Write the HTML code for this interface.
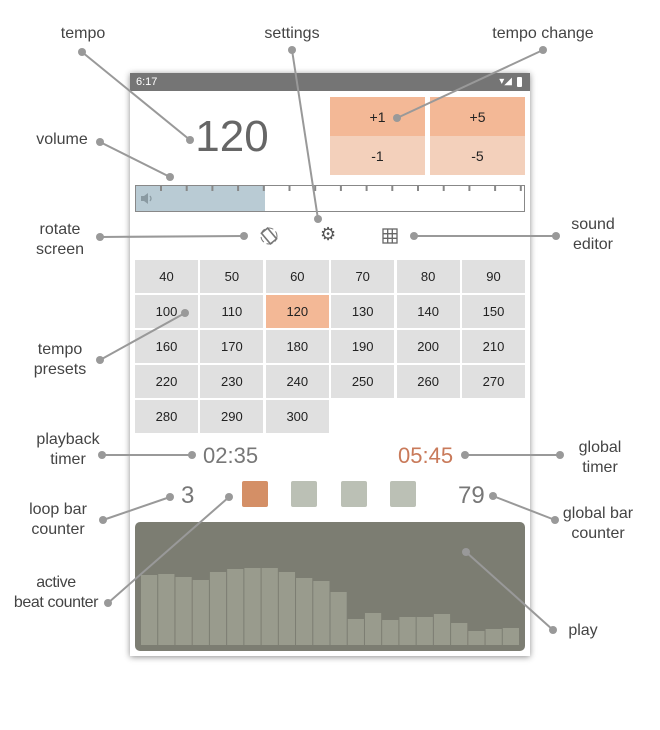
<!DOCTYPE html>
<html><head><meta charset="utf-8"><style>
body{margin:0;width:660px;height:730px;background:#fff;position:relative;overflow:hidden;font-family:"Liberation Sans",sans-serif}
div,span{position:absolute;box-sizing:border-box}
.lbl{font-size:16px;color:#444;text-align:center;line-height:20px;white-space:nowrap}
.cell{background:#e0e0e0;font-size:13px;color:#222;display:flex;align-items:center;justify-content:center;height:33px;width:63px}
.tb{display:flex;align-items:center;justify-content:center;font-size:14px;color:#222;width:95px;height:39px}
.sq{width:26px;height:26px;top:481px;border-radius:2px;background:#bbc0b5}
</style></head><body>
<div style="left:130px;top:73px;width:400px;height:583px;background:#fff;box-shadow:0 1px 6px rgba(0,0,0,.45)"></div>
<div style="left:130px;top:73px;width:400px;height:18px;background:#757575;color:#fff;font-size:11px;padding:3px 6px;line-height:12px">6:17<span style="right:18px;top:3px;font-size:10px">▾◢</span><span style="right:8px;top:4px;width:5px;height:10px;background:#fff;border-radius:1px"></span></div>
<div style="left:192px;top:112px;width:80px;font-size:44px;color:#666;text-align:center;line-height:50px">120</div>
<div class="tb" style="left:330px;top:97px;background:#f3b896">+1</div>
<div class="tb" style="left:430px;top:97px;background:#f3b896">+5</div>
<div class="tb" style="left:330px;top:136px;background:#f3d0bb">-1</div>
<div class="tb" style="left:430px;top:136px;background:#f3d0bb">-5</div>
<div style="left:135px;top:185px;width:390px;height:27px;border:1px solid #888;background:#fff">
<div style="left:0;top:0;width:129px;height:25px;background:#b9cbd4"></div>
<svg style="position:absolute;left:4px;top:6px" width="14" height="13"><path d="M1 4H4L8 1V12L4 9H1Z" fill="#8a9aa2"/><path d="M10 4Q12 6.5 10 9" stroke="#8a9aa2" fill="none" stroke-width="1.3"/></svg>
<svg style="position:absolute;left:0;top:0" width="390" height="25"><g stroke="#888" stroke-width="2" id="ticks"></g></svg>
</div>
<svg style="position:absolute;left:259px;top:226px" width="20" height="20"><circle cx="10" cy="10" r="8" fill="none" stroke="#777" stroke-width="1" stroke-dasharray="6 3"/><rect x="6" y="3" width="8" height="14" transform="rotate(-40 10 10)" fill="none" stroke="#777" stroke-width="1.6"/></svg>
<div style="left:320px;top:224px;font-size:18px;color:#555">⚙</div>
<svg style="position:absolute;left:382px;top:228px" width="16" height="16"><g stroke="#666" stroke-width="1.3" fill="none"><rect x="1" y="1" width="14" height="14"/><path d="M5.7 1V15M10.3 1V15M1 5.7H15M1 10.3H15"/></g></svg>
<div id="grid" style="left:0;top:0"></div>
<div style="left:203px;top:443px;font-size:22px;color:#777">02:35</div>
<div style="left:398px;top:443px;font-size:22px;color:#c97a5a">05:45</div>
<div style="left:181px;top:482px;font-size:24px;color:#777">3</div>
<div style="left:458px;top:482px;font-size:24px;color:#777">79</div>
<div class="sq" style="left:242px;background:#d48f66"></div>
<div class="sq" style="left:291px"></div>
<div class="sq" style="left:341px"></div>
<div class="sq" style="left:390px"></div>
<div style="left:135px;top:522px;width:390px;height:129px;background:#7c7d72;border-radius:5px;overflow:hidden">
<svg id="wave" width="390" height="129" style="position:absolute;left:0;top:0"></svg></div>
<svg id="ann" width="660" height="730" style="position:absolute;left:0;top:0"></svg>
<div class="lbl" style="left:53px;top:24px;width:60px">tempo</div>
<div class="lbl" style="left:252px;top:24px;width:80px">settings</div>
<div class="lbl" style="left:483px;top:24px;width:120px">tempo change</div>
<div class="lbl" style="left:22px;top:130px;width:80px">volume</div>
<div class="lbl" style="left:20px;top:220px;width:80px">rotate<br>screen</div>
<div class="lbl" style="left:553px;top:215px;width:80px">sound<br>editor</div>
<div class="lbl" style="left:20px;top:340px;width:80px">tempo<br>presets</div>
<div class="lbl" style="left:18px;top:430px;width:100px">playback<br>timer</div>
<div class="lbl" style="left:560px;top:438px;width:80px">global<br>timer</div>
<div class="lbl" style="left:8px;top:500px;width:100px">loop bar<br>counter</div>
<div class="lbl" style="left:548px;top:504px;width:100px">global bar<br>counter</div>
<div class="lbl" style="left:6px;top:573px;width:100px;letter-spacing:-0.4px">active<br>beat counter</div>
<div class="lbl" style="left:563px;top:621px;width:40px">play</div>
<script>
const presets=[40,50,60,70,80,90,100,110,120,130,140,150,160,170,180,190,200,210,220,230,240,250,260,270,280,290,300];
const activeTempo=120;
const barHeights=[70,71,68,65,73,76,77,77,73,67,64,53,26,32,25,28,28,31,22,14,16,17];
const NS='http://www.w3.org/2000/svg';
const g=document.getElementById('grid');
presets.forEach((v,i)=>{const c=document.createElement('div');c.className='cell';


c.style.left=(135+(i%6)*65.4)+'px';c.style.top=(260+Math.floor(i/6)*35)+'px';
if(v===activeTempo)c.style.background='#f3b896';c.textContent=v;g.appendChild(c);});
const t=document.getElementById('ticks');
for(let i=0;i<15;i++){const l=document.createElementNS(NS,'line');const x=25+i*25.7;
l.setAttribute('x1',x);l.setAttribute('x2',x);l.setAttribute('y1',0);l.setAttribute('y2',5);t.appendChild(l);}
const w=document.getElementById('wave');const bw=379/barHeights.length;
barHeights.forEach((h,i)=>{const r=document.createElementNS(NS,'rect');


r.setAttribute('x',6+i*bw);r.setAttribute('width',bw-1);r.setAttribute('y',123-h);r.setAttribute('height',h);r.setAttribute('fill','#999b8d');w.appendChild(r);});
const lines=[[82,52,190,140],[292,50,318,219],[543,50,397,118],[100,142,170,177],[100,237,244,236],[556,236,414,236],[100,360,185,313],[102,455,192,455],[560,455,465,455],[103,520,170,497],[555,520,493,496],[108,603,229,497],[553,630,466,552]];
const a=document.getElementById('ann');
lines.forEach(([x1,y1,x2,y2])=>{const l=document.createElementNS(NS,'line');


l.setAttribute('x1',x1);l.setAttribute('y1',y1);l.setAttribute('x2',x2);l.setAttribute('y2',y2);l.setAttribute('stroke','#999');l.setAttribute('stroke-width','2');a.appendChild(l);
[[x1,y1],[x2,y2]].forEach(([x,y])=>{const c=document.createElementNS(NS,'circle');c.setAttribute('cx',x);c.setAttribute('cy',y);c.setAttribute('r',4);c.setAttribute('fill','#999');a.appendChild(c);});});
</script>
</body></html>
